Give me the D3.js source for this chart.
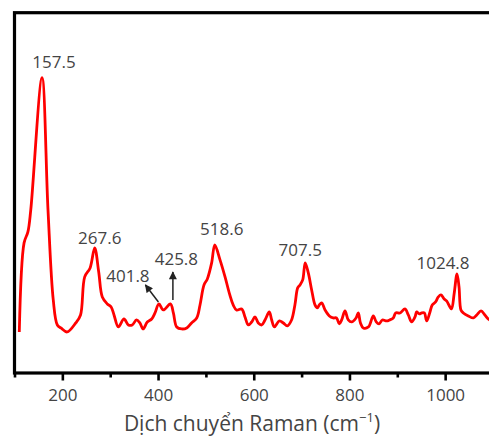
<!DOCTYPE html>
<html>
<head>
<meta charset="utf-8">
<script src="https://cdn.jsdelivr.net/npm/d3@7"></script>
<style>
  html, body { margin: 0; padding: 0; background: #fff; }
  svg { display: block; font-family: "Open Sans", "Noto Sans", sans-serif; }
</style>
</head>
<body>
<svg id="chart" width="489" height="439"></svg>
<script>
// Raman shift (cm^-1) and relative intensity of the measured spectrum
const ramanShift = [
  110, 120, 128, 134, 157.5, 170, 181, 189.5, 197, 210, 228, 238, 246.7, 258, 267.6, 276,
  283.5, 294, 302, 308, 317, 328.8, 338, 346, 355, 362, 369, 377.5, 386.7, 393.6, 401.8,
  411, 425.8, 432, 439, 449.4, 460, 470, 480.8, 487.7, 496, 503, 512, 518.6, 529.5, 540,
  550, 557, 564, 574.8, 581.7, 588.6, 595.6, 602.6, 609.5, 616.6, 623.5, 632.5, 637.5, 643,
  653.4, 661.8, 670, 679, 686, 691.8, 696.6, 702.3, 707.5, 714, 721, 728, 732.9, 737, 742,
  749, 758, 766, 773, 778.8, 783.7, 790.7, 797.6, 804.6, 813.7, 818.5, 823, 829, 839.6,
  849.8, 856, 861.8, 868.7, 877.8, 884, 891.6, 896.6, 905.6, 916, 923, 930, 937, 940.5,
  946, 951, 956.5, 961.4, 968.3, 973, 980, 985.7, 991.3, 998, 1003, 1010, 1013.5, 1019,
  1024.8, 1029, 1033, 1038, 1048.4, 1059, 1066, 1075, 1083, 1090, 1100
];
const intensity = [
  41, 130, 141, 163, 295, 163, 73, 48, 45, 41, 50, 58, 96, 105, 125, 101,
  76, 69, 66, 58, 46, 54, 48, 48, 53, 50, 44, 51, 54, 60, 69,
  63, 69, 60, 46, 44, 45, 50, 55, 68, 88, 94, 110, 128, 113, 96,
  78, 68, 63, 64, 56, 48, 51, 56, 50, 48, 53, 61, 53, 46,
  52, 50, 47, 53, 68, 85, 88, 93, 110, 100, 83, 68, 65, 68, 70,
  63, 57, 55, 55, 49, 53, 62, 53, 51, 55, 60, 50, 45, 46,
  57, 51, 49, 53, 52, 53, 55, 60, 60, 64, 58, 51, 56, 61,
  59, 60, 60, 52, 61, 68, 71, 76, 78, 74, 72, 66, 64, 80,
  99, 86, 63, 60, 57, 55, 58, 62, 58, 54, 51
];

// Peak positions that are labelled on the spectrum
const peakPositions = [157.5, 267.6, 401.8, 425.8, 518.6, 707.5, 1024.8];
const peakLabels = ["157.5", "267.6", "401.8", "425.8", "518.6", "707.5", "1024.8"];

// Axis tick values
const majorTicks = [200, 400, 600, 800, 1000];
const minorTicks = [100, 300, 500, 700, 900, 1100];
const xTitle = "Dịch chuyển Raman (cm";
const xTitleSup = "−1";

const svg = d3.select("#chart");
const plotLeft = 14.5, plotRight = 493, plotTop = 12.7, plotBottom = 373;

const x = d3.scaleLinear().domain([100, 1100]).range([plotLeft, plotRight]);
const y = d3.scaleLinear().domain([0, 360]).range([plotBottom, plotTop]);

const textColor = "#444";

// spectrum
const points = ramanShift.map((w, i) => [w, intensity[i]]);
const line = d3.line()
  .x(d => x(d[0]))
  .y(d => y(d[1]))
  .curve(d3.curveCatmullRom.alpha(0.5));

svg.append("path")
  .datum(points)
  .attr("fill", "none")
  .attr("stroke", "#ff0000")
  .attr("stroke-width", 2.8)
  .attr("stroke-linejoin", "round")
  .attr("d", line);

// bottom axis: major ticks with labels
const axisG = svg.append("g")
  .attr("transform", `translate(0,${plotBottom})`)
  .call(d3.axisBottom(x).tickValues(majorTicks).tickSize(7.5).tickFormat(d3.format("d")));
axisG.select(".domain").remove();
axisG.selectAll(".tick line").attr("stroke", "#000").attr("stroke-width", 2.6);
axisG.selectAll(".tick text")
  .attr("fill", textColor)
  .attr("font-size", 17)
  .attr("font-family", "'Open Sans', sans-serif")
  .attr("dy", null)
  .attr("y", 28);

// minor ticks
const minorG = svg.append("g")
  .attr("transform", `translate(0,${plotBottom})`)
  .call(d3.axisBottom(x).tickValues(minorTicks).tickSize(4.5).tickFormat(""));
minorG.select(".domain").remove();
minorG.selectAll(".tick line").attr("stroke", "#000").attr("stroke-width", 2.6);

// frame
svg.append("rect")
  .attr("x", plotLeft).attr("y", plotTop)
  .attr("width", plotRight - plotLeft).attr("height", plotBottom - plotTop)
  .attr("fill", "none")
  .attr("stroke", "#000")
  .attr("stroke-width", 3.2);

// axis title
const title = svg.append("text")
  .attr("x", 252).attr("y", 431)
  .attr("text-anchor", "middle")
  .attr("fill", textColor)
  .attr("font-size", 21);
title.append("tspan").text(xTitle);
title.append("tspan").attr("font-size", 13).attr("dy", -9).text(xTitleSup);
title.append("tspan").attr("dy", 9).text(")");

// arrowhead marker
svg.append("defs").append("marker")
  .attr("id", "arrowhead")
  .attr("viewBox", "0 0 10 10")
  .attr("refX", 9).attr("refY", 5)
  .attr("markerUnits", "userSpaceOnUse")
  .attr("markerWidth", 9).attr("markerHeight", 8)
  .attr("orient", "auto")
  .append("path")
  .attr("d", "M0,0 L10,5 L0,10 Z")
  .attr("fill", "#222");

// peak annotations: label offset from the peak, optional arrow
const annotationLayout = {
  "157.5": { dx: 12, dy: -10 },
  "267.6": { dx: 5, dy: -4 },
  "401.8": { dx: -31, dy: -22, arrow: [-0.5, -2, -13.5, -19] },
  "425.8": { dx: 6, dy: -39, arrow: [2.5, -4, 2.5, -32] },
  "518.6": { dx: 7, dy: -10 },
  "707.5": { dx: -5, dy: -7 },
  "1024.8": { dx: -14, dy: -5 }
};

peakPositions.forEach((p, i) => {
  const idx = ramanShift.indexOf(p);
  const px = x(p), py = y(intensity[idx]);
  const lay = annotationLayout[peakLabels[i]];
  svg.append("text")
    .attr("x", px + lay.dx).attr("y", py + lay.dy)
    .attr("text-anchor", "middle")
    .attr("fill", textColor)
    .attr("font-size", 17)
    .text(peakLabels[i]);
  if (lay.arrow) {
    const a = lay.arrow;
    svg.append("line")
      .attr("x1", px + a[0]).attr("y1", py + a[1])
      .attr("x2", px + a[2]).attr("y2", py + a[3])
      .attr("stroke", "#222")
      .attr("stroke-width", 1.5)
      .attr("marker-end", "url(#arrowhead)");
  }
});
</script>
</body>
</html>
